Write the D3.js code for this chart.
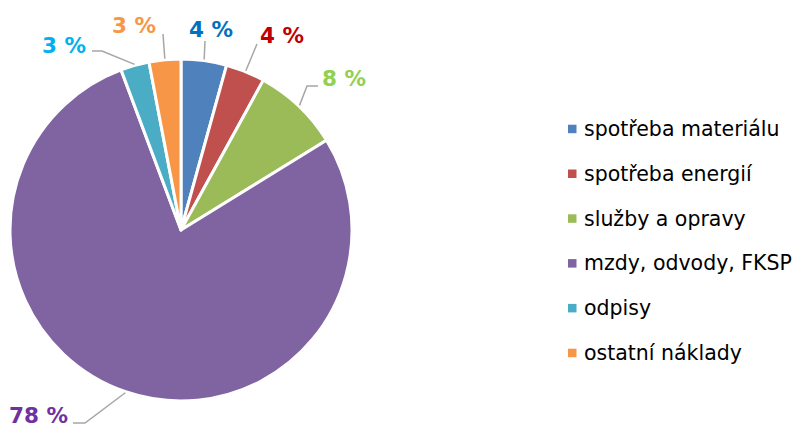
<!DOCTYPE html>
<html>
<head>
<meta charset="utf-8">
<script src="https://cdn.jsdelivr.net/npm/d3@7"></script>
<style>
  html, body { margin: 0; padding: 0; background: #fff; }
  svg { display: block; }
</style>
</head>
<body>
<svg id="chart" width="800" height="428"></svg>
<script>
const categories = ["spotřeba materiálu", "spotřeba energií", "služby a opravy", "mzdy, odvody, FKSP", "odpisy", "ostatní náklady"];
const values = [4.3, 3.7, 8.2, 78.1, 2.7, 3.0];
const labels = ["4 %", "4 %", "8 %", "78 %", "3 %", "3 %"];
const sliceColors = ["#4F81BD", "#C0504D", "#9BBB59", "#8064A2", "#4BACC6", "#F79646"];
const labelColors = ["#0070C0", "#C00000", "#92D050", "#7030A0", "#00B0F0", "#F79646"];

// layout (label placement) – positions of leader ends and label text
const labelLayout = [
  { end: [205, 41], elbow: null, text: [211, 37], anchor: "middle" },
  { end: [257, 44], elbow: null, text: [282, 43], anchor: "middle" },
  { end: [307, 86], elbow: [318, 86], text: [322, 86], anchor: "start" },
  { end: [85, 423], elbow: [73, 423], text: [68, 422.5], anchor: "end" },
  { end: [102, 51], elbow: [92, 51], text: [86, 53], anchor: "end" },
  { end: [163, 34], elbow: null, text: [156, 33], anchor: "end" }
];

const svg = d3.select("#chart");
const cx = 181, cy = 230, R = 171;

const data = categories.map((c, i) => ({ name: c, value: values[i], i }));
const pie = d3.pie().value(d => d.value).sort(null);
const arcs = pie(data);
const arc = d3.arc().innerRadius(0).outerRadius(R);

const g = svg.append("g").attr("transform", `translate(${cx},${cy})`);
g.selectAll("path.slice").data(arcs).enter().append("path")
  .attr("class", "slice")
  .attr("d", arc)
  .attr("fill", d => sliceColors[d.data.i])
  .attr("stroke", "#fff")
  .attr("stroke-width", 3)
  .attr("stroke-linejoin", "round");

// leader lines
const lg = svg.append("g");
arcs.forEach(d => {
  const L = labelLayout[d.data.i];
  const mid = (d.startAngle + d.endAngle) / 2;
  const sx = cx + Math.sin(mid) * (R + 1);
  const sy = cy - Math.cos(mid) * (R + 1);
  const pts = [[sx, sy], L.end];
  if (L.elbow) pts.push(L.elbow);
  lg.append("path")
    .attr("d", d3.line()(pts))
    .attr("fill", "none")
    .attr("stroke", "#A6A6A6")
    .attr("stroke-width", 1.5);
  lg.append("text")
    .attr("x", L.text[0]).attr("y", L.text[1])
    .attr("text-anchor", L.anchor)
    .attr("font-family", "'DejaVu Sans', Verdana, sans-serif")
    .attr("font-weight", "bold")
    .attr("font-size", 21.5)
    .attr("fill", labelColors[d.data.i])
    .text(labels[d.data.i]);
});

// legend
const legY = d3.scaleLinear().domain([0, categories.length - 1]).range([129, 353]);
const leg = svg.append("g");
categories.forEach((c, i) => {
  const y = legY(i);
  leg.append("rect")
    .attr("x", 568).attr("y", y - 4.3)
    .attr("width", 8.5).attr("height", 8.5)
    .attr("fill", sliceColors[i]);
  leg.append("text")
    .attr("x", 584).attr("y", y + 7)
    .attr("font-family", "'DejaVu Sans', Verdana, sans-serif")
    .attr("font-size", 20.5)
    .attr("fill", "#000")
    .text(c);
});
</script>
</body>
</html>
